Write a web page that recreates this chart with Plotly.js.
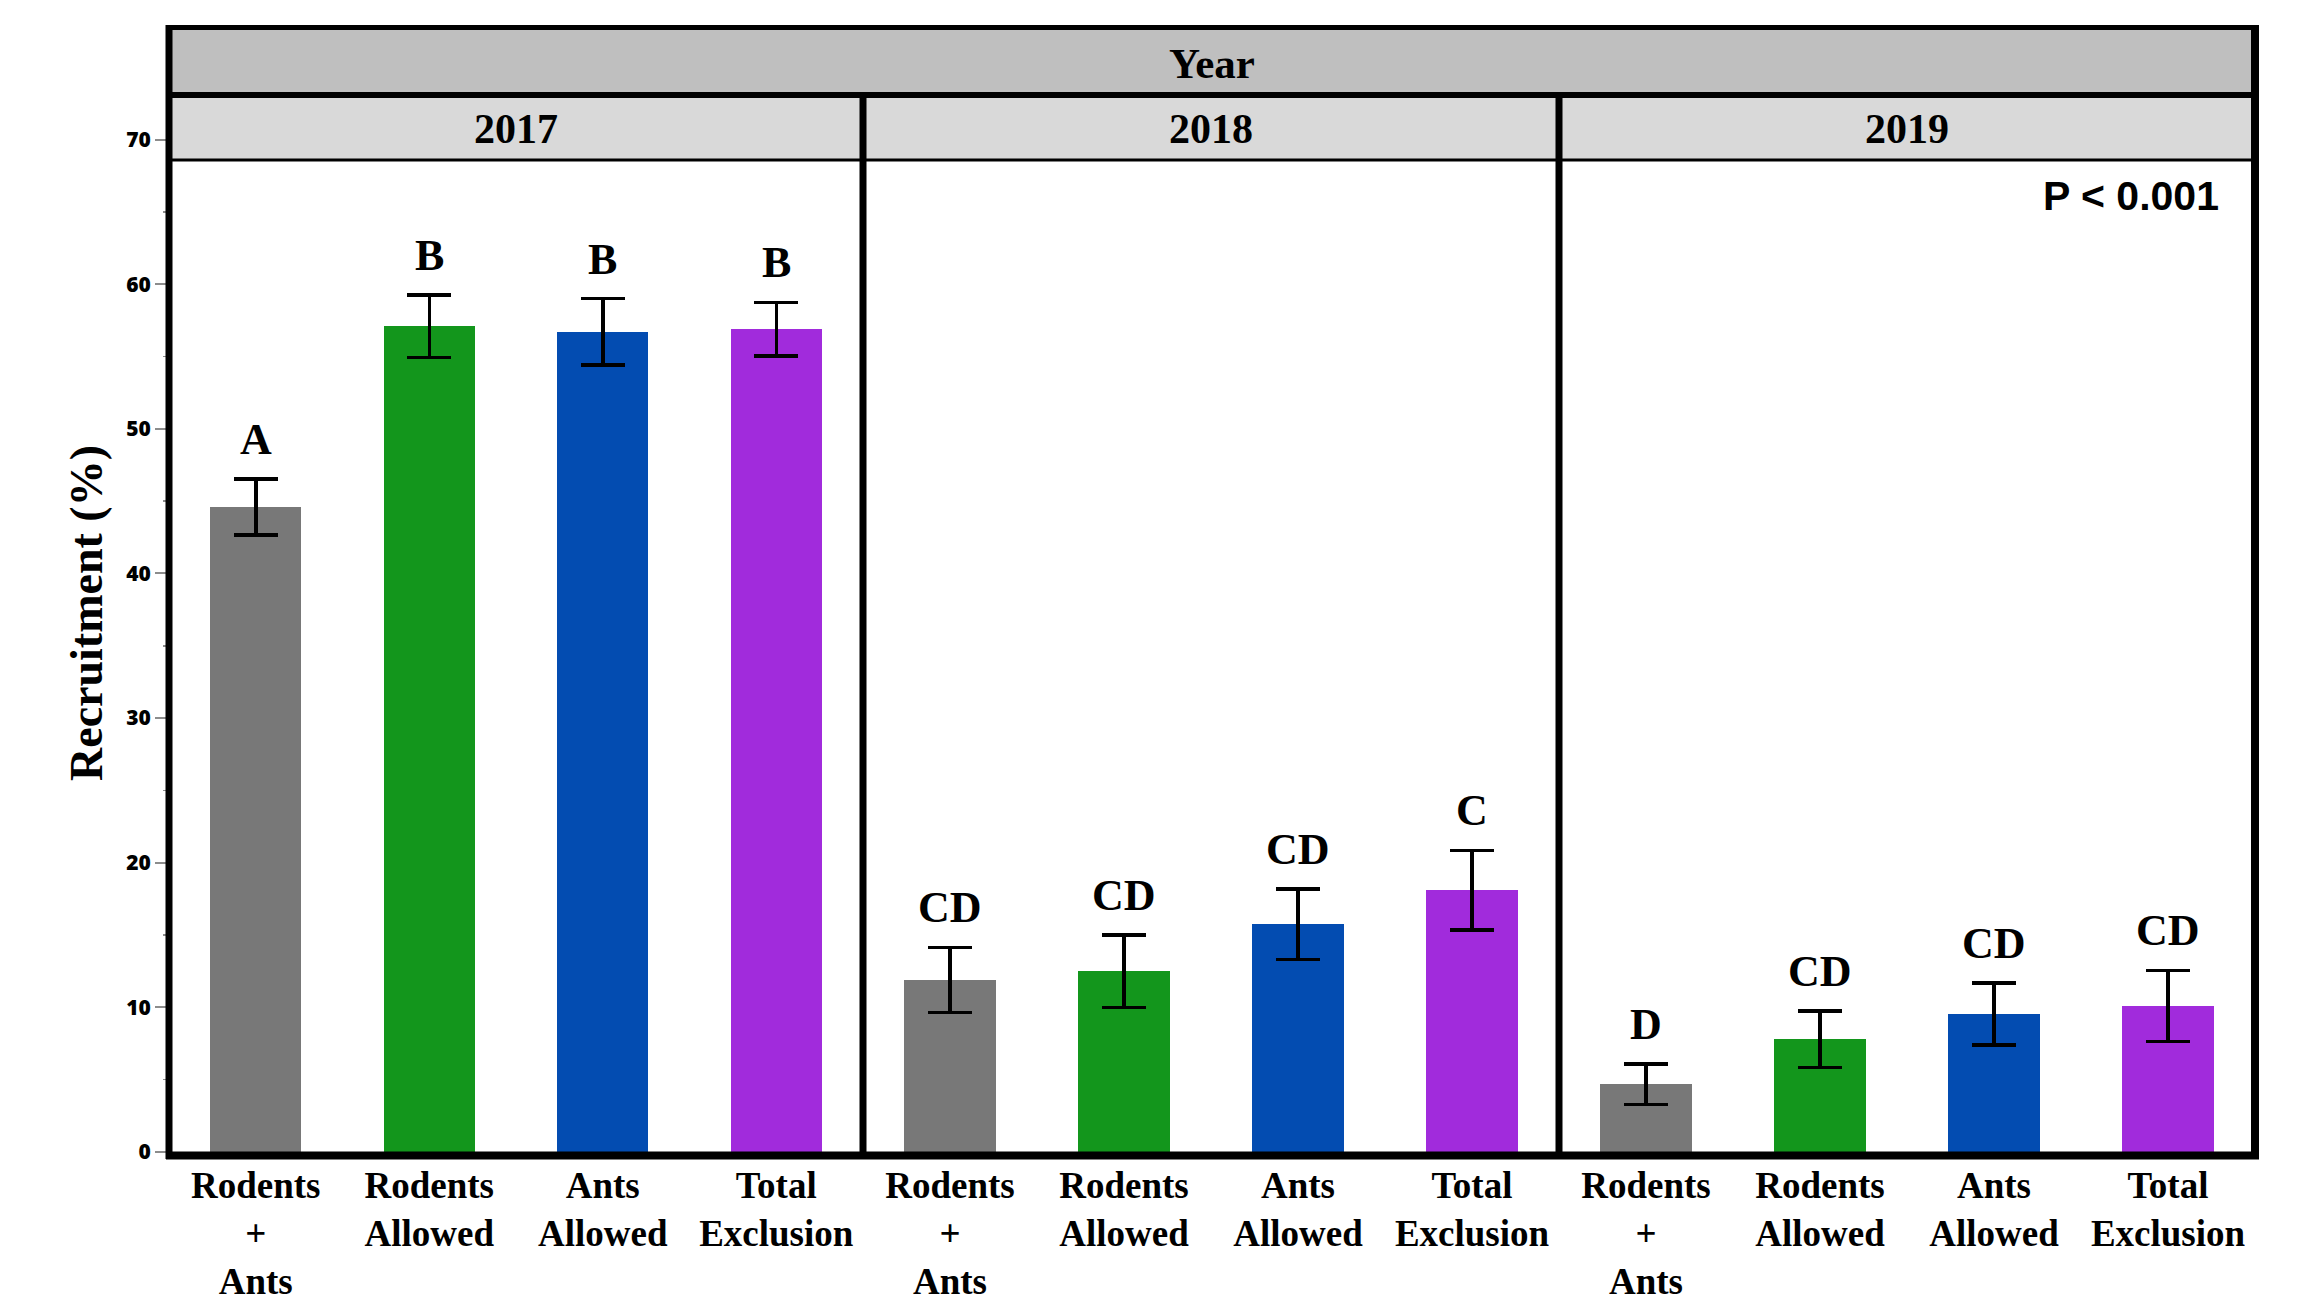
<!DOCTYPE html>
<html>
<head>
<meta charset="utf-8">
<script src="https://cdn.plot.ly/plotly-3.0.1.min.js"></script>
<style>html,body{margin:0;padding:0;background:#fff;}#chart{width:2307px;height:1307px;}</style>
</head>
<body>
<div id="chart"></div>
<script>
// ---- data ----
const years = ["2017", "2018", "2019"];
const treatments = ["Rodents<br>+<br>Ants", "Rodents<br>Allowed", "Ants<br>Allowed", "Total<br>Exclusion"];
const colors = ["#787878", "#13961c", "#034cb1", "#a12bdc"];
const mean2017 = [44.6, 57.1, 56.7, 56.9];
const se2017 = [1.95, 2.15, 2.3, 1.85];
const mean2018 = [11.9, 12.5, 15.75, 18.1];
const se2018 = [2.25, 2.5, 2.45, 2.75];
const mean2019 = [4.7, 7.8, 9.55, 10.1];
const se2019 = [1.4, 1.95, 2.15, 2.45];
const letters2017 = ["A", "B", "B", "B"];
const letters2018 = ["CD", "CD", "CD", "C"];
const letters2019 = ["D", "CD", "CD", "CD"];
const yTicks = [0, 10, 20, 30, 40, 50, 60, 70];
const yMinorTicks = [5, 15, 25, 35, 45, 55, 65];
const pText = "P < 0.001";
const stripTitle = "Year";

const means = [mean2017, mean2018, mean2019];
const ses = [se2017, se2018, se2019];
const letters = [letters2017, letters2018, letters2019];

// ---- layout geometry helpers (pixels -> paper) ----
const W = 2307, H = 1307;
const mL = 169, mR = 52, mT = 74, mB = 155;
const pw = W - mL - mR, ph = H - mT - mB;
const xp = p => (p - mL) / pw;
const yp = p => (H - mB - p) / ph;
const divs = [863, 1559];
const domains = [[0, xp(divs[0])], [xp(divs[0]), xp(divs[1])], [xp(divs[1]), 1]];
const serif = "Liberation Serif, Times New Roman, serif";

const traces = [];
const annotations = [];
const axNames = ["x", "x2", "x3"];
years.forEach((yr, i) => {
  traces.push({
    type: "bar",
    x: treatments,
    y: means[i],
    xaxis: axNames[i],
    yaxis: "y",
    width: 0.525,
    marker: {color: colors, line: {width: 0}},
    error_y: {type: "data", array: ses[i], visible: true, color: "#000", thickness: 3.5, width: 22},
    showlegend: false,
    hoverinfo: "x+y"
  });
  treatments.forEach((t, j) => {
    annotations.push({
      xref: axNames[i], yref: "y", x: t, y: means[i][j] + ses[i][j],
      text: letters[i][j], showarrow: false, yanchor: "bottom", yshift: 13,
      font: {family: serif, size: 44, color: "#000", weight: "bold"}
    });
  });
  annotations.push({
    xref: "paper", yref: "paper", x: (domains[i][0] + domains[i][1]) / 2, y: yp(129),
    text: yr, showarrow: false, xanchor: "center", yanchor: "middle",
    font: {family: serif, size: 42, color: "#000", weight: "bold"}
  });
});
annotations.push({
  xref: "paper", yref: "paper", x: 0.5, y: yp(63), text: stripTitle, showarrow: false,
  xanchor: "center", yanchor: "middle",
  font: {family: serif, size: 43, color: "#000", weight: "bold"}
});
annotations.push({
  xref: "paper", yref: "paper", x: xp(2221), y: yp(196), text: pText, showarrow: false,
  xanchor: "right", yanchor: "middle",
  font: {family: "Liberation Sans, Arial, sans-serif", size: 41, color: "#000", weight: "bold"}
});

const shapes = [
  // strips
  {type: "rect", xref: "paper", yref: "paper", x0: xp(169), x1: xp(2255), y0: yp(30), y1: yp(92), fillcolor: "#bfbfbf", line: {width: 0}},
  {type: "rect", xref: "paper", yref: "paper", x0: xp(169), x1: xp(2255), y0: yp(98), y1: yp(159), fillcolor: "#d9d9d9", line: {width: 0}},
  // strip separator lines
  {type: "line", xref: "paper", yref: "paper", x0: xp(166), x1: xp(2259), y0: yp(95), y1: yp(95), line: {color: "#000", width: 6}},
  {type: "line", xref: "paper", yref: "paper", x0: xp(169), x1: xp(2255), y0: yp(160), y1: yp(160), line: {color: "#000", width: 3}},
  // frame
  {type: "line", xref: "paper", yref: "paper", x0: xp(166), x1: xp(2259), y0: yp(27.5), y1: yp(27.5), line: {color: "#000", width: 5}},
  {type: "line", xref: "paper", yref: "paper", x0: xp(169), x1: xp(169), y0: yp(25), y1: yp(1159), line: {color: "#000", width: 7}},
  {type: "line", xref: "paper", yref: "paper", x0: xp(2255), x1: xp(2255), y0: yp(25), y1: yp(1159), line: {color: "#000", width: 8}},
  {type: "line", xref: "paper", yref: "paper", x0: xp(166), x1: xp(2259), y0: yp(1155.5), y1: yp(1155.5), line: {color: "#000", width: 8}},
  // panel dividers
  {type: "line", xref: "paper", yref: "paper", x0: xp(divs[0]), x1: xp(divs[0]), y0: yp(97), y1: yp(1155), line: {color: "#000", width: 7}},
  {type: "line", xref: "paper", yref: "paper", x0: xp(divs[1]), x1: xp(divs[1]), y0: yp(97), y1: yp(1155), line: {color: "#000", width: 7}}
];

const xaxisBase = {
  type: "category", range: [-0.5, 3.5], showgrid: false, zeroline: false, showline: false,
  ticks: "", anchor: "y", fixedrange: true, ticklabelstandoff: 8,
  tickfont: {family: serif, size: 37, color: "#000", weight: "bold"}
};

const layout = {
  width: W, height: H,
  margin: {l: mL, r: mR, t: mT, b: mB},
  paper_bgcolor: "#fff", plot_bgcolor: "#fff",
  showlegend: false,
  xaxis: Object.assign({}, xaxisBase, {domain: domains[0]}),
  xaxis2: Object.assign({}, xaxisBase, {domain: domains[1]}),
  xaxis3: Object.assign({}, xaxisBase, {domain: domains[2]}),
  yaxis: {
    range: [0, ph / 14.463], domain: [0, 1], showgrid: false, zeroline: false, showline: false,
    tickmode: "array", tickvals: yTicks, ticks: "outside", ticklen: 13, tickwidth: 2, tickcolor: "#8c8c8c",
    minor: {tickmode: "array", tickvals: yMinorTicks, ticks: "outside", ticklen: 5, tickwidth: 1.5, tickcolor: "#8c8c8c"},
    tickfont: {family: "Open Sans, sans-serif", size: 21, color: "#000", weight: 800},
    title: {text: "Recruitment (%)", standoff: 9, font: {family: serif, size: 46, color: "#000", weight: "bold"}},
    fixedrange: true
  },
  shapes: shapes,
  annotations: annotations,
  bargap: 0
};

Plotly.newPlot("chart", traces, layout, {displayModeBar: false, staticPlot: true});
</script>
</body>
</html>
